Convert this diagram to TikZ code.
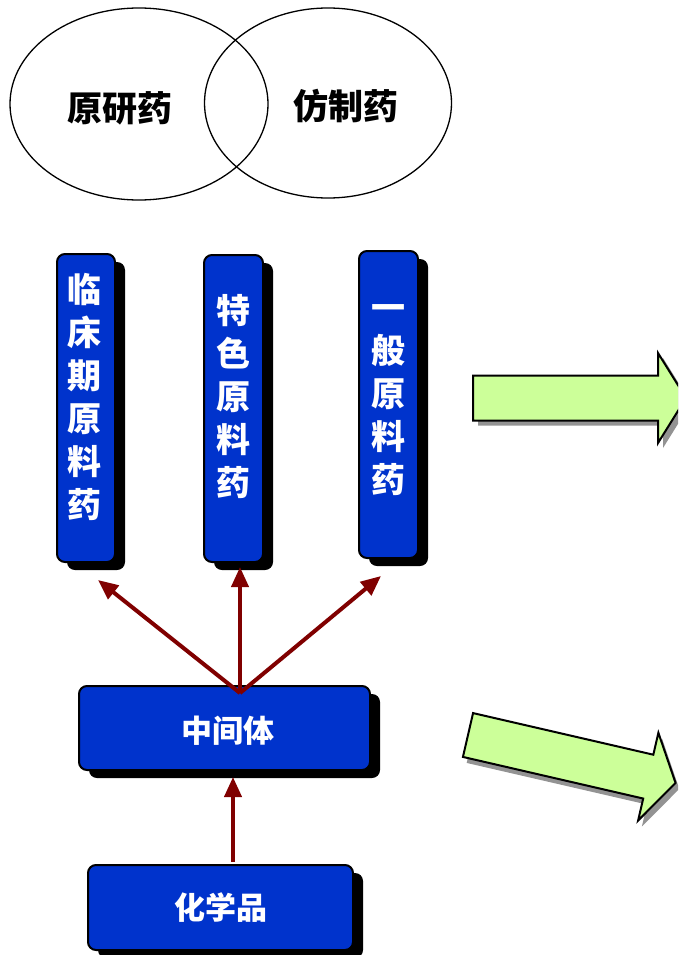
\documentclass[tikz,border=0pt]{standalone}
\usepackage{fontspec}
\newfontfamily\cjk{Noto Sans CJK SC}
\usetikzlibrary{shapes.geometric,arrows.meta,shadows}
\definecolor{boxblue}{RGB}{0,51,204}
\definecolor{darkred}{RGB}{128,0,0}
\definecolor{lightgreen}{RGB}{204,255,153}
\begin{document}
\begin{tikzpicture}[x=1pt,y=-1pt,
  ell/.style={draw=black,line width=1.3pt,ellipse,inner sep=0pt},
  etext/.style={font=\cjk\bfseries\fontsize{35}{40}\selectfont,text=black,inner sep=0pt},
  bluebox/.style={draw=black,line width=2pt,fill=boxblue,rounded corners=8pt,inner sep=0pt,
    drop shadow={shadow xshift=10pt,shadow yshift=-8pt,fill=black,opacity=1}},
  vtext/.style={font=\cjk\bfseries\fontsize{34}{43}\selectfont,text=white,align=center,inner sep=0pt},
  htext/.style={font=\cjk\bfseries\fontsize{31}{36}\selectfont,text=white,inner sep=0pt},
  link/.style={draw=darkred,line width=4pt,-{Triangle[length=20pt,width=17pt]}},
  bigarrow/.style={draw=black,line width=2pt,fill=lightgreen,line join=miter},
  bigshadow/.style={fill=gray!85},
]
\useasboundingbox (0,0) rectangle (678,955);
\clip (0,0) rectangle (678,955);

% ellipses
\node[ell,minimum width=258pt,minimum height=192pt] (e1) at (139,104) {};
\node[ell,minimum width=247pt,minimum height=190pt] (e2) at (328,103) {};
\node[etext] (t1) at (120,108) {原研药};
\node[etext] (t2) at (346,106) {仿制药};

% vertical boxes
\node[bluebox,minimum width=58pt,minimum height=308pt] (b1) at (86,408) {};
\node[bluebox,minimum width=59pt,minimum height=307pt] (b2) at (233.5,408.5) {};
\node[bluebox,minimum width=59pt,minimum height=307pt] (b3) at (388.5,404.5) {};
\node[vtext] (v1) at (84,397) {临\\床\\期\\原\\料\\药};
\node[vtext] (v2) at (233,397) {特\\色\\原\\料\\药};
\node[vtext] (v3) at (388,400) {一\\般\\原\\料\\药};

% horizontal boxes
\node[bluebox,minimum width=291pt,minimum height=84pt] (mid) at (224.5,728) {};
\node[htext] (midt) at (228,731) {中间体};
\node[bluebox,minimum width=265pt,minimum height=85pt] (bot) at (220.5,907.5) {};
\node[htext] (bott) at (221,908) {化学品};

% connectors
\coordinate (hub) at (240,693);
\coordinate (tipL) at (98,580);
\coordinate (tipM) at (240,567);
\coordinate (tipR) at (381,576);
\coordinate (botS) at (233,862);
\coordinate (midE) at (233,777);
\draw[link] (hub) -- (tipL);
\draw[link] (hub) -- (tipM);
\draw[link] (hub) -- (tipR);
\draw[link] (botS) -- (midE);

% big green arrows
\def\arrowpath{(0,-22.5) -- (185,-22.5) -- (185,-45) -- (213,0) -- (185,45) -- (185,22.5) -- (0,22.5) -- cycle}
\begin{scope}[shift={(473,398)}]
  \fill[bigshadow,shift={(5,5)}] \arrowpath;
  \draw[bigarrow] \arrowpath;
\end{scope}
\begin{scope}[shift={(468,735)},rotate=-13]
  \fill[bigshadow,shift={(5,5)}] \arrowpath;
  \draw[bigarrow] \arrowpath;
\end{scope}
\end{tikzpicture}
\end{document}
